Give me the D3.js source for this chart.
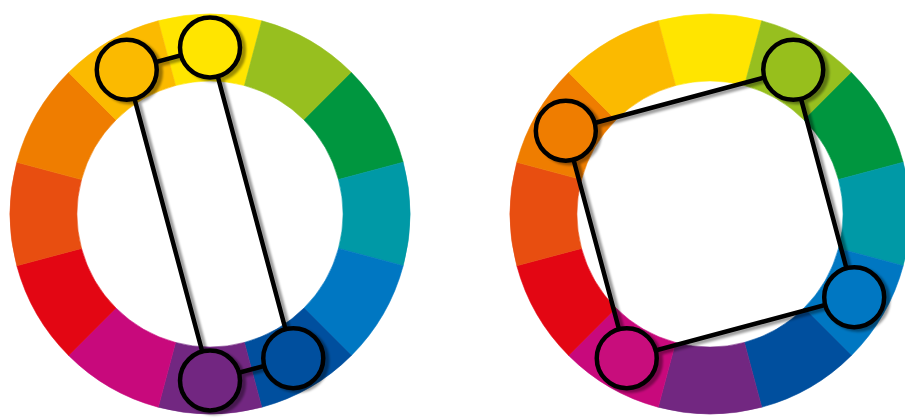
<!DOCTYPE html>
<html>
<head>
<meta charset="utf-8">
<script src="https://cdn.jsdelivr.net/npm/d3@7"></script>
<style>
  html, body { margin: 0; padding: 0; background: #fff; }
  svg { display: block; }
</style>
</head>
<body>
<div id="chart"></div>
<script>
// 12-part colour wheel, starting at yellow (top) and going clockwise
const hues = [
    'yellow', 'yellow-green', 'green', 'teal', 'blue', 'dark blue',
    'violet', 'magenta', 'red', 'red-orange', 'orange', 'yellow-orange'
];
const hueColors = [
    '#ffe500', '#97bf1f', '#00963f', '#0099a6', '#0077c2', '#004f9e',
    '#722781', '#c8097c', '#e30613', '#e84e10', '#ef7d00', '#fbba00'
];

// tetradic schemes, hues listed in the order they are joined
const rectangleScheme = ['yellow-orange', 'yellow', 'dark blue', 'violet'];
const squareScheme = ['orange', 'yellow-green', 'blue', 'magenta'];

const wheels = [
    {scheme: rectangleScheme, cx: 210, cy: 214},
    {scheme: squareScheme, cx: 710, cy: 214}
];

const width = 905, height = 419;
const outerR = 200, innerR = 133, markerR = 30;
const ringMid = (outerR + innerR) / 2;

const svg = d3.select('#chart')
    .append('svg')
    .attr('width', width)
    .attr('height', height);

const filter = svg.append('defs').append('filter')
    .attr('id', 'shadow')
    .attr('x', '-20%').attr('y', '-20%')
    .attr('width', '140%').attr('height', '140%');
filter.append('feDropShadow')
    .attr('dx', 4).attr('dy', 2.5)
    .attr('stdDeviation', 0.9)
    .attr('flood-color', '#000')
    .attr('flood-opacity', 0.38);

// angle of each hue, clockwise from 12 o'clock
const angle = d3.scaleLinear()
    .domain([0, hues.length])
    .range([0, 2 * Math.PI]);
const step = angle(1);

const arc = d3.arc()
    .innerRadius(innerR)
    .outerRadius(outerR)
    .startAngle((d, i) => angle(i) - step / 2)
    .endAngle((d, i) => angle(i) + step / 2);

wheels.forEach((w) => {
    const g = svg.append('g')
        .attr('transform', `translate(${w.cx},${w.cy})`);

    g.selectAll('path.seg')
        .data(hues)
        .join('path')
        .attr('class', 'seg')
        .attr('d', arc)
        .attr('fill', (d, i) => hueColors[i])
        .attr('stroke', (d, i) => hueColors[i])
        .attr('stroke-width', 0.6);

    const pts = w.scheme.map((name) => {
        const i = hues.indexOf(name);
        const [x, y] = d3.pointRadial(angle(i), ringMid);
        return {x, y, color: hueColors[i]};
    });

    const overlay = g.append('g').attr('filter', 'url(#shadow)');

    const line = d3.line()
        .x((d) => d.x)
        .y((d) => d.y)
        .curve(d3.curveLinearClosed);

    overlay.append('path')
        .attr('d', line(pts))
        .attr('fill', 'none')
        .attr('stroke', '#000')
        .attr('stroke-width', 4.5);

    overlay.selectAll('circle')
        .data(pts)
        .join('circle')
        .attr('cx', (d) => d.x)
        .attr('cy', (d) => d.y)
        .attr('r', markerR)
        .attr('fill', (d) => d.color)
        .attr('stroke', '#000')
        .attr('stroke-width', 4.5);
});
</script>
</body>
</html>
